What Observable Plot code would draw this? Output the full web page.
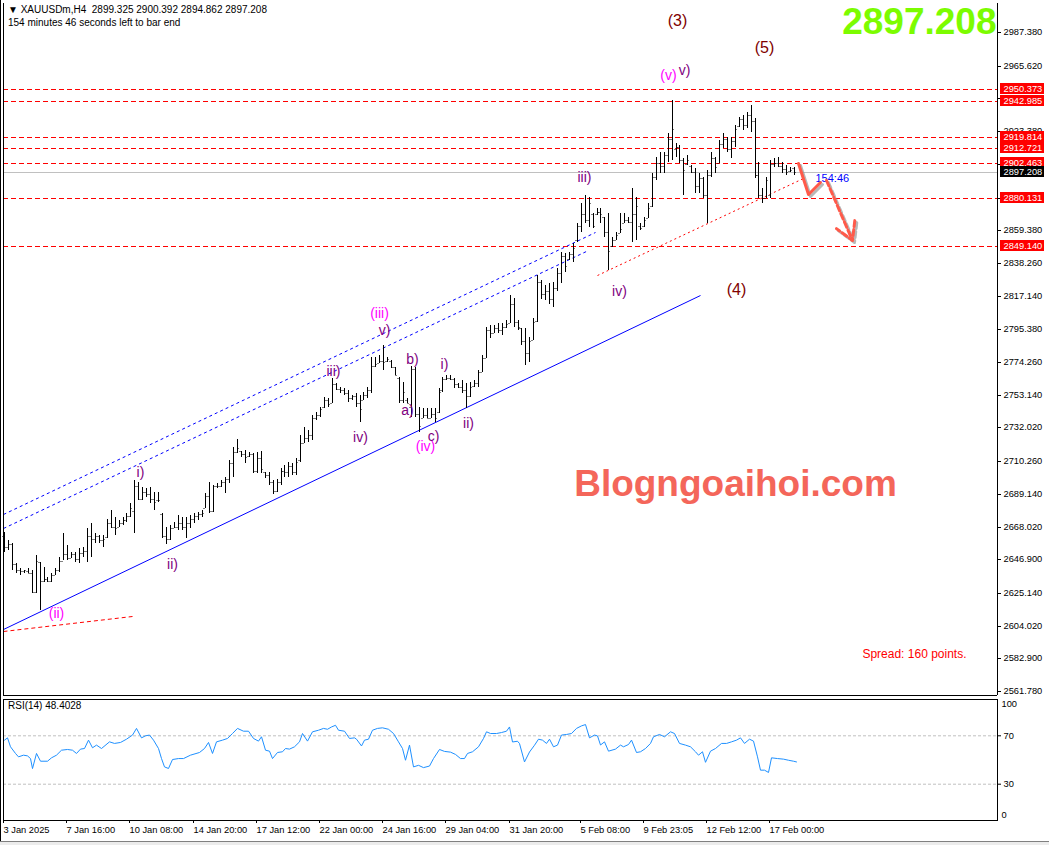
<!DOCTYPE html>
<html><head><meta charset="utf-8">
<script src="https://cdn.jsdelivr.net/npm/d3@7"></script>
<script src="https://cdn.jsdelivr.net/npm/@observablehq/plot@0.6"></script>
<style>
body{margin:0;background:#fff;}
#wrap{position:relative;width:1049px;height:845px;overflow:hidden;background:#fff;font-family:"Liberation Sans",Arial,sans-serif;}
#main,#rsi{position:absolute;left:0;}
#main{top:0}
#rsi{top:697px}
.hdr{position:absolute;left:8px;font-size:10px;color:#000;white-space:pre;line-height:12px;}
#lb{position:absolute;left:0;top:0;width:1px;height:845px;background:#000;}
#tabbar{position:absolute;left:0;top:841px;width:1049px;height:4px;background:#ececec;border-top:1px solid #808080;}
</style></head><body>
<div id="wrap">
 <div id="main"></div><div id="rsi"></div>
 <div id="lb"></div><div id="tabbar"></div>
 <div class="hdr" style="top:4px">▼ XAUUSDm,H4  2899.325 2900.392 2894.862 2897.208</div>
 <div class="hdr" style="top:17px">154 minutes 46 seconds left to bar end</div>
 <div class="hdr" style="top:700px">RSI(14) 48.4028</div>
</div>
<script>
// ---- OHLC (H4 bars, index 0 = 3 Jan 2025) ----
const high = [2664.7,2659.3,2657.1,2644.2,2641.0,2639.9,2641.0,2639.9,2649.6,2645.3,2642.1,2635.6,2637.8,2641.0,2648.5,2663.6,2656.1,2651.8,2651.8,2653.9,2655.0,2666.8,2670.1,2663.6,2662.5,2662.5,2672.7,2678.7,2674.4,2672.2,2674.4,2676.5,2683.0,2698.0,2697.0,2693.7,2692.7,2693.7,2690.5,2690.5,2676.5,2667.9,2669.0,2671.1,2675.4,2673.9,2674.4,2675.4,2676.5,2677.6,2678.7,2689.4,2697.0,2694.8,2695.9,2698.0,2700.2,2711.0,2719.6,2724.3,2717.0,2717.4,2716.4,2715.3,2716.4,2717.0,2703.4,
2703,2698,2699,2706,2708,2710,2709,2712,
2727.1,2732.5,2730.3,2740.0,2742.2,2745.4,2751.9,2750.8,2763.7,2760.5,2758.3,2757.2,2756.2,2752.9,2754.0,2752.9,2755.1,2758.3,2777.7,2777.7,2778.8,2785.2,2777.7,2775.5,2771.2,2764.8,2761.5,2750.8,2771.7,2771.2,2745.4,2744.3,2744.3,2744.3,2744.3,2757.2,2764.8,2765.8,2765.8,2763.7,2760.5,2762.6,2760.5,2761.5,2762.6,2769.1,2778.8,2797.1,2798.1,2798.1,2799.2,2799.2,2801.4,2817.5,2815.4,2801.4,2796.0,2796.0,2790.6,2802.5,
2830.4,2827,2824,2825,2826,2835,
2845.5,2844.4,2845.5,2850.9,2863.8,2876.7,2882.1,2881.0,2870.3,2873.5,2873.5,2868.1,2870.3,2855.2,2858.4,2870.3,2870.3,2868.1,2886.4,2881.0,2863.8,2868.1,2876.7,2896.1,2906.9,2910.1,2910.1,2921.9,2943.5,2915.5,2914.4,2905.8,2907.9,2901.5,2899.3,2896.1,2893.9,2898.2,2910.1,2906.9,2917.6,2921.9,2919.8,2919.8,2927.3,2932.7,2933.8,2935.9,2940.2,2931.6,2903.6,2886.4,2893.9,2904.7,2905.8,2906.9,2903.6,2901.5,2900.4,2900.392];
const low = [2651.8,2652.8,2639.9,2637.8,2636.7,2637.8,2637.8,2624.8,2624.8,2614.1,2632.4,2632.4,2632.4,2636.7,2638.8,2646.4,2646.4,2647.5,2645.3,2644.7,2648.5,2645.3,2648.5,2657.1,2657.1,2655.0,2660.4,2666.8,2662.5,2667.9,2669.0,2671.1,2674.4,2663.6,2685.1,2685.1,2687.3,2683.0,2678.7,2684.0,2660.4,2656.7,2659.3,2666.8,2665.7,2665.7,2660.4,2666.8,2670.1,2672.2,2674.4,2679.7,2676.5,2677.6,2692.7,2693.7,2689.4,2695.9,2700.2,2715.3,2713.1,2709.2,2713.1,2702.4,2702.4,2702.4,2699.1,
2695,2689,2690,2695,2700,2700,2701,2701,
2710,2721.7,2722.8,2723.9,2736.8,2738.9,2744.3,2745.4,2747.6,2756.2,2754.0,2752.9,2748.6,2749.7,2745.4,2735.7,2749.7,2750.8,2754.0,2771.2,2773.4,2769.1,2774.5,2770.2,2765.8,2747.6,2747.6,2747.6,2738.9,2738.9,2729.3,2737.9,2737.9,2737.9,2735.7,2741.1,2755.1,2762.6,2762.6,2757.2,2757.2,2754.0,2744.3,2751.9,2758.3,2758.3,2768.0,2776.6,2789.5,2792.8,2792.8,2791.7,2796.0,2799.2,2797.1,2794.9,2785.2,2772.3,2774.5,2788.5,
2800,2815,2814,2812,2810,2820,
2825,2832.6,2840.1,2839.0,2852.0,2858.4,2863.8,2861.7,2860.6,2869.2,2863.8,2855.2,2833.7,2848.7,2853.0,2857.3,2863.8,2863.8,2851.9,2853.0,2859.5,2861.7,2867.0,2874.6,2891.8,2896.1,2896.1,2903.6,2904.7,2906.9,2902.6,2882.1,2901.5,2896.1,2883.2,2883.2,2879.9,2863.8,2893.9,2896.1,2902.6,2912.2,2910.1,2905.8,2913.3,2926.2,2924.1,2925.2,2923.0,2892.9,2879.9,2876.7,2879.9,2879.9,2900.4,2900.4,2896.1,2895.0,2897.2,2894.862];
const open = [2662,2655,2657,2644,2640,2639,2639,2638,2626,2645,2633,2634,2633,2637,2640,2646,2650,2648,2650,2647,2651,2652,2662,2660,2662,2659,2661,2670,2668,2668,2670,2672,2675,2678,2694,2686,2690,2689,2686,2685,2676,2662,2660,2667,2668,2670,2668,2670,2673,2675,2676,2680,2688,2678,2694,2694,2697,2699,2709,2716,2717,2715,2713.5,2715,2704,2712,2703,
2701,2697,2691,2697,2704,2703,2707,2703,
2711,2722,2725,2727,2738,2740,2745,2750,2748,2760,2757,2756,2754,2751,2752,2748,2750,2753,2756,2772,2773.5,2775,2775,2775,2771,2764,2750,2750,2745,2770,2741,2738,2740,2738,2741,2742,2756,2763,2764,2763,2760,2758,2756,2752,2758.5,2761,2768,2777,2795,2793,2796,2795,2797,2799.5,2812,2800,2796,2788,2780,2788.5,
2801,2826,2818,2820,2815,2822,
2832,2843,2841,2844,2853,2862,2870,2866,2870,2870,2871,2868,2858,2849,2853,2857.5,2864,2866,2865,2870,2862,2862,2867,2875,2894,2903,2901,2908,2918,2912,2913,2905,2902,2901,2897,2888,2893,2882,2895,2906,2903,2915,2918,2912,2917,2926.5,2931,2927,2934,2930,2895,2882,2880,2882,2902,2903,2901,2899,2897.5,2899.325];
const close = [2655,2657,2644,2640,2639,2640,2638,2626,2646,2633,2634,2633,2637,2640,2646,2650,2648,2650,2647,2651,2652,2662,2660,2662,2659,2660,2670,2668,2667,2670,2672,2675,2680,2694,2686,2690,2689,2686,2684,2685,2662,2660,2667,2668,2670,2668,2670,2673,2675,2676,2677,2688,2678,2694,2694,2697,2699,2709,2716,2719,2715,2713,2715,2704,2712,2705,2701,
2697,2691,2697,2704,2703,2707,2703,2710,
2722,2725,2727,2738,2740,2744,2750,2747,2760,2757,2756,2754,2751,2752,2748,2744,2753,2756,2772,2773,2775,2774,2776,2771,2766,2750,2755,2748,2770,2741,2733,2740,2738,2741,2738,2755,2763,2764,2763,2760,2758,2756,2752,2758,2761,2768,2777,2795,2793,2796,2795,2797,2799,2812,2800,2797,2788,2780,2788,2800,
2826,2818,2820,2815,2822,2832,
2843,2836,2844,2848,2862,2870,2866,2877,2862,2871,2870,2858,2846,2853,2856,2860,2866,2865,2870,2875,2861,2866,2874,2894,2903,2901,2908,2918,2925,2913,2905,2898,2905,2897,2888,2893,2882,2895,2906,2900,2915,2918,2912,2917,2925,2931,2927,2934,2930,2895,2882,2880,2892,2902,2903,2901,2899,2897,2898,2897.208];

// ---- price axis ticks and horizontal levels ----
const yTicks = [2987.38,2965.62,2944.5,2923.38,2902.26,2880.5,2859.38,2838.26,2817.14,2795.38,2774.26,2753.14,2732.02,2710.26,2689.14,2668.02,2646.9,2625.14,2604.02,2582.9,2561.78];
const coveredTicks = [2944.5,2902.26,2880.5];   // fully covered by the level boxes
const levels = [2950.373,2942.985,2919.814,2912.721,2902.463,2880.131,2849.14];
const lastPrice = [2897.208];

// ---- trend / channel lines (bar index, price) ----
const blueDashed = [{x1:-0.25,y1:2676.1,x2:149.6,y2:2858.2},{x1:-0.25,y1:2667.0,x2:147.8,y2:2846.6}];
const blueSolid = [{x1:-0.25,y1:2601.8,x2:176.2,y2:2817.5}];
const redDotted = [{x1:150.1,y1:2830.4,x2:202.3,y2:2893.1}];
const redDashed = [{x1:-0.25,y1:2600.5,x2:32.4,y2:2610.2}];

// ---- wave labels ----
const majorWaves = [{t:"(3)",i:170.4,p:2995.1},{t:"(5)",i:192.4,p:2977.7},{t:"(4)",i:185.3,p:2821.4}];
const minorWaves = [{t:"(v)",i:168.1,p:2959.6},{t:"(iii)",i:94.9,p:2805.9},{t:"(iv)",i:106.6,p:2720.0},{t:"(ii)",i:13.2,p:2612.0}];
const subWaves = [{t:"v)",i:172.2,p:2962.8},{t:"iii)",i:146.8,p:2893.7},{t:"iv)",i:155.7,p:2820.1},{t:"v)",i:96.2,p:2794.9},{t:"iii)",i:83.3,p:2768.5},{t:"b)",i:103.3,p:2776.2},{t:"i)",i:111.4,p:2773.0},{t:"a)",i:102.0,p:2743.3},{t:"iv)",i:90.1,p:2725.8},{t:"c)",i:108.6,p:2726.5},{t:"ii)",i:117.5,p:2734.9},{t:"i)",i:34.4,p:2703.2},{t:"ii)",i:42.5,p:2643.8}];
const watermark = [{t:"Blogngoaihoi.com",i:185.1,p:2695.5}];
const countdown = [{t:"154:46",i:205.3,p:2893.1}];
const arrowBend = [{i:201.0,p:2902.8},{i:203.5,p:2882.8},{i:206.6,p:2890.5}];
const arrowDown = [{x1:208.1,y1:2891.8,x2:214.7,y2:2853.1}];

// ---- RSI(14) ----
const rsiIdx = [0,0.8,1.6,2.7,3.6,4.9,5.8,6.6,7.2,8.1,9.2,10.8,11.8,13.1,14.4,16.0,17.3,18.3,19.3,20.3,21.2,22.3,23.2,24.5,26.5,27.8,29.3,31.0,32.3,33.4,34.6,35.6,36.7,37.7,38.9,39.8,40.6,41.5,42.5,44.1,45.4,47.1,49.3,50.6,51.6,52.6,53.7,55.2,56.5,57.8,59.1,60.5,61.8,63.1,64.4,65.0,66.0,67.0,67.9,69.0,70.3,71.2,72.2,73.5,74.6,75.5,76.8,78.1,79.4,80.7,81.8,82.7,83.7,84.6,86.0,87.3,88.6,89.2,90.3,91.2,92.1,93.1,94.5,95.8,97.1,98.4,99.7,100.7,101.6,102.6,103.6,104.9,106.2,107.5,108.6,110.1,111.5,112.8,114.1,115.4,116.4,117.3,118.6,120.0,121.3,121.9,123.0,124.5,125.8,127.1,127.8,128.7,129.8,130.4,131.7,133.0,134.3,135.3,136.3,137.3,137.9,138.9,140.0,140.9,142.2,143.5,144.8,146.1,147.0,148.1,149.4,150.0,151.0,152.0,153.0,154.6,155.9,156.6,157.9,158.8,160.1,161.1,162.4,163.5,164.4,165.7,167.0,168.7,169.6,170.9,172.3,173.6,174.9,175.8,176.6,177.5,178.8,180.1,181.4,182.7,184.0,185.3,186.3,187.3,188.6,189.6,190.6,191.5,192.5,193.4,194.2,195.8,197.1,198.4,199.7,200.4];
const rsiVal = [66.4,68.3,60.9,55.4,52.6,54.0,53.4,51.2,42.9,55.4,49.0,49.0,51.8,54.0,58.1,58.7,58.1,55.4,59.0,59.5,66.4,60.1,62.3,59.5,65.0,63.7,64.5,67.2,70.6,76.1,68.3,70.0,70.6,66.4,59.5,51.2,44.3,43.0,50.4,51.2,51.2,54.0,56.2,59.5,64.5,55.4,65.0,66.4,67.8,71.9,76.1,73.8,73.8,67.8,65.6,69.2,58.1,57.3,51.2,56.2,56.8,59.5,59.0,60.9,65.0,71.9,65.6,73.3,74.6,76.1,75.4,77.3,78.7,74.6,73.8,67.8,68.3,67.2,61.6,66.4,67.2,74.6,76.1,76.6,75.4,71.9,65.0,59.5,49.8,62.3,44.3,45.6,43.7,45.0,51.2,58.7,57.1,56.5,54.6,51.2,51.2,55.4,56.8,60.9,67.8,73.3,71.9,71.9,72.7,73.8,77.3,64.9,65.5,63.6,48.4,56.6,62.2,67.2,66.4,63.7,67.2,60.9,62.3,70.6,71.1,71.9,76.1,78.2,79.3,68.3,70.6,69.9,62.4,65.0,57.3,59.0,62.3,60.9,62.8,66.4,56.2,56.8,59.5,63.7,69.2,71.1,69.2,73.3,71.9,63.7,62.3,60.9,56.8,54.0,56.8,48.1,57.3,59.5,63.7,63.7,65.0,66.4,68.3,63.7,67.2,65.6,52.6,41.6,41.6,39.7,51.8,51.2,50.7,49.8,49.0,48.4];
const rsiLevels = [30,70];

// ---- time axis ----
const timeIdx = [0,16,32,48,64,80,96,112,128,146,162,178,194];
const timeLabels = ["3 Jan 2025","7 Jan 16:00","10 Jan 08:00","14 Jan 20:00","17 Jan 12:00","22 Jan 00:00","24 Jan 16:00","29 Jan 04:00","31 Jan 20:00","5 Feb 08:00","9 Feb 23:05","12 Feb 12:00","17 Feb 00:00"];

// ---- build ----
const bars = high.map((h,i)=>({i, high:h, low:low[i], open:open[i], close:close[i]}));
const rsi = rsiIdx.map((x,k)=>({i:x, v:rsiVal[k]}));
const timeMap = new Map(timeIdx.map((d,k)=>[d,timeLabels[k]]));
const xDom = [-0.2532, 251.39];
const onePx = 1/3.95;
const FONT = '"Liberation Sans", Arial, sans-serif';
const AX = 9.3;

const main = Plot.plot({
  width:1049, height:697, marginLeft:3, marginRight:52, marginTop:3, marginBottom:2,
  x:{domain:xDom, round:true, axis:null},
  y:{domain:[2559.21,3006.11], round:true},
  style:{fontFamily:FONT, background:"transparent", overflow:"visible"},
  marks:[
    Plot.ruleY(lastPrice, {stroke:"#c0c0c0"}),
    Plot.ruleY(levels, {stroke:"#ff0000", strokeDasharray:"5,3"}),
    Plot.link(blueDashed, {x1:"x1",y1:"y1",x2:"x2",y2:"y2", stroke:"#0000ff", strokeDasharray:"3,3"}),
    Plot.link(blueSolid, {x1:"x1",y1:"y1",x2:"x2",y2:"y2", stroke:"#0000ff"}),
    Plot.link(redDotted, {x1:"x1",y1:"y1",x2:"x2",y2:"y2", stroke:"#ff0000", strokeDasharray:"2,3"}),
    Plot.link(redDashed, {x1:"x1",y1:"y1",x2:"x2",y2:"y2", stroke:"#ff0000", strokeDasharray:"4,3"}),
    Plot.ruleX(bars, {x:"i", y1:"low", y2:"high", stroke:"#000"}),
    Plot.ruleY(bars, {y:"open", x1:d=>d.i-onePx, x2:"i", dx:-0.5, stroke:"#000"}),
    Plot.ruleY(bars, {y:"close", x1:"i", x2:d=>d.i+onePx, dx:0.5, stroke:"#000"}),
    Plot.text(majorWaves, {x:"i", y:"p", text:"t", fill:"#800000", fontSize:16}),
    Plot.text(minorWaves, {x:"i", y:"p", text:"t", fill:"#ff00ff", fontSize:14}),
    Plot.text(subWaves, {x:"i", y:"p", text:"t", fill:"#800080", fontSize:14}),
    Plot.text(countdown, {x:"i", y:"p", text:"t", fill:"#0000ff", fontSize:11, textAnchor:"start"}),
    Plot.line(arrowBend, {x:"i", y:"p", stroke:"#888", strokeWidth:3, dx:2, dy:2, strokeOpacity:0.6}),
    Plot.arrow(arrowDown, {x1:"x1",y1:"y1",x2:"x2",y2:"y2", stroke:"#888", strokeWidth:3, dx:2, dy:2, strokeOpacity:0.6, strokeDasharray:"6,3", headLength:10}),
    Plot.line(arrowBend, {x:"i", y:"p", stroke:"#ff5a4a", strokeWidth:3}),
    Plot.arrow(arrowDown, {x1:"x1",y1:"y1",x2:"x2",y2:"y2", stroke:"#ff5a4a", strokeWidth:3, strokeDasharray:"6,3", headLength:10}),
    Plot.text(watermark, {x:"i", y:"p", text:"t", fill:"#f4665a", fontSize:37, fontWeight:"bold", ariaLabel:"watermark"}),
    Plot.text(lastPrice, {frameAnchor:"top-right", text:d=>d.toFixed(3), textAnchor:"end", lineAnchor:"top", dy:4, dx:-1, fontSize:37, fontWeight:"bold", fill:"#7cfc00"}),
    Plot.text(["Spread: 160 points."], {frameAnchor:"bottom-right", textAnchor:"end", dx:-31, dy:-38, fill:"#ff0000", fontSize:12}),
    Plot.axisY(yTicks, {anchor:"right", label:null, tickSize:3, tickPadding:3, tickFormat:d=>coveredTicks.includes(d) ? "" : d.toFixed(3), fontSize:AX, fill:"#000"}),
    Plot.rect(levels, {x1:xDom[1]+3*onePx, x2:xDom[1]+47*onePx, y1:d=>d, y2:d=>d, insetTop:-6, insetBottom:-5, fill:"#ff0000"}),
    Plot.text(levels, {x:xDom[1], y:d=>d, text:d=>d.toFixed(3), dx:6, textAnchor:"start", fill:"#fff", fontSize:AX}),
    Plot.rect(lastPrice, {x1:xDom[1]+3*onePx, x2:xDom[1]+47*onePx, y1:d=>d, y2:d=>d, insetTop:-6, insetBottom:-5, fill:"#000"}),
    Plot.text(lastPrice, {x:xDom[1], y:d=>d, text:d=>d.toFixed(3), dx:6, textAnchor:"start", fill:"#fff", fontSize:AX}),
    Plot.ruleX([xDom[0], xDom[1]], {stroke:"#000"}),
    Plot.ruleY([2559.21], {stroke:"#000"})
  ]
});
document.getElementById("main").appendChild(main);
d3.select(main).select('g[aria-label="watermark"]').style("filter","drop-shadow(2px 2px 1.5px rgba(60,60,60,0.75))");

const rsiPlot = Plot.plot({
  width:1049, height:148, marginLeft:3, marginRight:52, marginTop:2, marginBottom:25,
  x:{domain:xDom, round:true},
  y:{domain:[0,100]},
  style:{fontFamily:FONT, background:"transparent", overflow:"visible"},
  marks:[
    Plot.ruleY(rsiLevels, {stroke:"#c0c0c0", strokeDasharray:"3,2"}),
    Plot.line(rsi, {x:"i", y:"v", stroke:"#1e90ff", strokeWidth:1}),
    Plot.frame({stroke:"#000"}),
    Plot.axisY(rsiLevels, {anchor:"right", label:null, tickSize:3, tickPadding:3, fontSize:AX, fill:"#000"}),
    Plot.text([100], {x:xDom[1], y:d=>d, text:d=>String(d), dx:4, dy:5, textAnchor:"start", fontSize:AX}),
    Plot.text([0], {x:xDom[1], y:d=>d, text:d=>String(d), dx:4, dy:-5, textAnchor:"start", fontSize:AX}),
    Plot.axisX(timeIdx, {anchor:"bottom", label:null, tickSize:3, tickPadding:3, textAnchor:"start", dx:-1, tickFormat:d=>timeMap.get(d), fontSize:AX, fill:"#000"})
  ]
});
document.getElementById("rsi").appendChild(rsiPlot);
</script>
</body></html>
